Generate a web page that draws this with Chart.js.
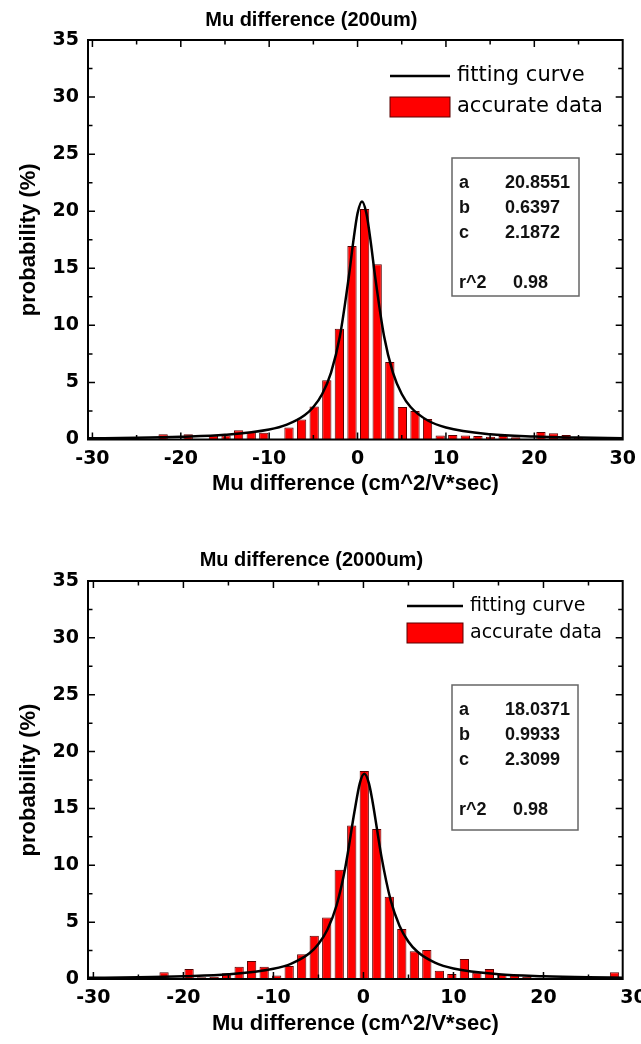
<!DOCTYPE html>
<html>
<head>
<meta charset="utf-8">
<script src="https://cdn.jsdelivr.net/npm/chart.js@4/dist/chart.umd.min.js"></script>
<style>
  body { margin: 0; background: #fff; width: 641px; height: 1044px; overflow: hidden; position: relative; }
  .grafica { position: absolute; left: 0; }
</style>
</head>
<body>
<canvas id="grafica200" class="grafica" width="641" height="540" style="top:0"></canvas>
<canvas id="grafica2000" class="grafica" width="641" height="504" style="top:540px"></canvas>
<script>
// ---- 200um: centros de las barras y probabilidad (%) ----
const bins200 = [-22.0, -20.58, -19.16, -17.73, -16.31, -14.88, -13.46, -12.03, -10.61, -9.18,
  -7.76, -6.33, -4.91, -3.48, -2.06, -0.63, 0.80, 2.22, 3.65, 5.07, 6.50, 7.92, 9.35, 10.77,
  12.20, 13.62, 15.05, 16.47, 17.90, 19.32, 20.75, 22.17, 23.60, 25.02];
const prob200 = [0.45, 0, 0.45, 0, 0.35, 0.35, 0.8, 0.65, 0.6, 0,
  1.05, 1.75, 2.9, 5.2, 9.7, 16.95, 20.2, 15.35, 6.8, 2.85, 2.5, 1.8, 0.35, 0.4,
  0.35, 0.3, 0.25, 0.3, 0.2, 0, 0.65, 0.55, 0.4, 0.2];
// curva de ajuste
const ajusteX200 = [-30.5, -25, -20, -15, -10, -8, -6, -5, -4, -3, -2, -1, -0.5, 0, 0.5,
  1, 1.5, 2, 3, 4, 5, 6, 8, 10, 15, 20, 25, 30];
const ajusteY200 = [0.10, 0.15, 0.24, 0.41, 0.87, 1.30, 2.12, 2.85, 3.99, 5.86, 9.04, 14.19, 17.25, 19.82, 20.86,
  19.82, 17.25, 14.19, 9.04, 5.86, 3.99, 2.85, 1.64, 1.05, 0.46, 0.26, 0.17, 0.11];
const params200 = ['20.8551', '0.6397', '2.1872'];
const r2_200 = '0.98';

// ---- 2000um ----
const bins2000 = [-24.93, -23.54, -22.15, -20.76, -19.37, -17.98, -16.59, -15.20, -13.81, -12.42,
  -11.03, -9.64, -8.25, -6.86, -5.47, -4.08, -2.69, -1.30, 0.09, 1.48, 2.87, 4.26, 5.65,
  7.04, 8.43, 9.82, 11.21, 12.60, 13.99, 15.38, 16.77, 18.16, 19.55, 20.94, 22.33, 23.72,
  25.11, 26.50, 27.89];
const prob2000 = [0.15, 0, 0.59, 0, 0.88, 0.15, 0.2, 0.5, 1.08, 1.58,
  1.08, 0.3, 1.14, 2.17, 3.81, 5.4, 9.6, 13.5, 18.3, 13.2, 7.24, 4.4, 2.43,
  2.55, 0.73, 0.44, 1.76, 0.56, 0.88, 0.44, 0.35, 0.2, 0.1, 0.1, 0.1, 0.1,
  0.1, 0, 0.59];
const ajusteX2000 = [-30.6, -25, -20, -15, -10, -8, -6, -5, -4, -3, -2, -1, -0.4, 0.1, 0.6,
  1, 2, 3, 4, 5, 6, 8, 10, 15, 20, 25, 28.8];
const ajusteY2000 = [0.10, 0.15, 0.24, 0.41, 0.90, 1.36, 2.26, 3.07, 4.35, 6.44, 9.88, 14.7, 17.23, 18.04, 17.23,
  15.66, 10.76, 7.0, 4.69, 3.28, 2.40, 1.42, 0.93, 0.42, 0.24, 0.15, 0.12];
const params2000 = ['18.0371', '0.9933', '2.3099'];
const r2_2000 = '0.98';

const etiquetasParam = ['a', 'b', 'c'];
const ticksX = [-30, -20, -10, 0, 10, 20, 30];
const ticksY = [0, 5, 10, 15, 20, 25, 30, 35];

const FUENTE = '"Liberation Sans", Arial, sans-serif';
const FUENTE_TICKS = '"DejaVu Sans", sans-serif';

function marcoPlugin(cfg) {
  return {
    id: 'marco',
    afterDraw(chart) {
      const ctx = chart.ctx;
      const a = chart.chartArea;
      const x = chart.scales.x, y = chart.scales.y;
      ctx.save();
      // marco y marcas hacia adentro
      ctx.strokeStyle = '#000';
      ctx.lineWidth = 2;
      ctx.strokeRect(a.left, a.top, a.right - a.left, a.bottom - a.top);
      ctx.lineWidth = 1.5;
      ctx.beginPath();
      for (let v = -30; v <= 30; v += 5) {
        const px = x.getPixelForValue(v);
        if (px <= a.left + 1 || px >= a.right - 1) continue;
        const len = v % 10 === 0 ? 7 : 4.5;
        ctx.moveTo(px, a.bottom); ctx.lineTo(px, a.bottom - len);
        ctx.moveTo(px, a.top); ctx.lineTo(px, a.top + len);
      }
      for (let v = 2.5; v < 35; v += 2.5) {
        const py = y.getPixelForValue(v);
        const len = v % 5 === 0 ? 7 : 4.5;
        ctx.moveTo(a.left, py); ctx.lineTo(a.left + len, py);
        ctx.moveTo(a.right, py); ctx.lineTo(a.right - len, py);
      }
      ctx.stroke();

      // leyenda
      const linea = chart.data.datasets[0], barras = chart.data.datasets[1];
      const ley = cfg.leyenda;
      ctx.strokeStyle = linea.borderColor;
      ctx.lineWidth = 2.5;
      ctx.beginPath();
      ctx.moveTo(ley.x, ley.y1); ctx.lineTo(ley.x + ley.ancho, ley.y1);
      ctx.stroke();
      ctx.fillStyle = barras.backgroundColor;
      ctx.fillRect(ley.x, ley.y2 - 10, ley.ancho, 20);
      ctx.strokeStyle = barras.borderColor;
      ctx.lineWidth = 1;
      ctx.strokeRect(ley.x, ley.y2 - 10, ley.ancho, 20);
      ctx.fillStyle = '#000';
      ctx.font = ley.fuente + 'px "DejaVu Sans", sans-serif';
      ctx.textBaseline = 'middle';
      ctx.fillText(linea.label, ley.x + ley.ancho + 7, ley.y1);
      ctx.fillText(barras.label, ley.x + ley.ancho + 7, ley.y2);

      // caja de parametros
      const c = cfg.caja;
      ctx.strokeStyle = '#666';
      ctx.lineWidth = 1.5;
      ctx.strokeRect(c.x, c.y, c.w, c.h);
      ctx.fillStyle = '#111';
      ctx.font = 'bold 18px ' + FUENTE;
      etiquetasParam.forEach((e, i) => {
        ctx.fillText(e, c.x + 7, c.y + 25 + i * 25);
        ctx.fillText(cfg.params[i], c.x + 53, c.y + 25 + i * 25);
      });
      ctx.fillText('r^2', c.x + 7, c.y + 125);
      ctx.fillText(cfg.r2, c.x + 61, c.y + 125);
      ctx.restore();
    }
  };
}

function CrearGrafica(id, cfg) {
  const H = document.getElementById(id).height;
  new Chart(document.getElementById(id), {
    type: 'bar',
    data: {
      datasets: [
        {
          type: 'line',
          label: 'fitting curve',
          data: cfg.ajusteX.map((v, i) => ({ x: v, y: cfg.ajusteY[i] })),
          borderColor: '#000',
          borderWidth: 2.5,
          pointRadius: 0,
          cubicInterpolationMode: 'monotone',
          order: 0
        },
        {
          type: 'bar',
          label: 'accurate data',
          data: cfg.bins.map((v, i) => ({ x: v, y: cfg.prob[i] })),
          backgroundColor: '#ff0000',
          borderColor: '#5a0000',
          borderWidth: 1,
          barPercentage: 0.74,
          categoryPercentage: 1,
          order: 1
        }
      ]
    },
    options: {
      responsive: false,
      animation: false,
      layout: { padding: { left: 0, right: 18.3, top: 0, bottom: H - 497.6 } },
      plugins: {
        legend: { display: false },
        tooltip: { enabled: false },
        title: {
          display: true,
          text: cfg.titulo,
          color: '#000',
          font: { family: FUENTE, size: 20, weight: 'bold' },
          padding: { top: 8, bottom: cfg.plotTop - 32 }
        }
      },
      scales: {
        x: {
          type: 'linear',
          offset: false,
          min: cfg.xMin,
          max: cfg.xMax,
          grid: { display: false, drawTicks: false, offset: false },
          border: { display: false },
          afterBuildTicks: s => { s.ticks = ticksX.map(v => ({ value: v })); },
          afterFit: s => { s.height = 497.6 - cfg.plotBottom; s.paddingLeft = 0; s.paddingRight = 0; },
          ticks: { autoSkip: false, maxRotation: 0, padding: 8, color: '#000',
            font: { family: FUENTE_TICKS, size: 19, weight: 'bold' } },
          title: { display: true, text: 'Mu difference (cm^2/V*sec)', color: '#000', padding: 0,
            font: { family: FUENTE, size: 22, weight: 'bold' } }
        },
        y: {
          min: 0,
          max: 35,
          grid: { display: false, drawTicks: false },
          border: { display: false },
          afterBuildTicks: s => { s.ticks = ticksY.map(v => ({ value: v })); },
          afterFit: s => { s.width = 88; s.paddingTop = 0; s.paddingBottom = 0; },
          ticks: { padding: 9, color: '#000', font: { family: FUENTE_TICKS, size: 19, weight: 'bold' } },
          title: { display: true, text: 'probability (%)', color: '#000', padding: { top: 16, bottom: 0 },
            font: { family: FUENTE, size: 22, weight: 'bold' } }
        }
      }
    },
    plugins: [marcoPlugin(cfg)]
  });
}

CrearGrafica('grafica200', {
  titulo: 'Mu difference (200um)',
  bins: bins200, prob: prob200, ajusteX: ajusteX200, ajusteY: ajusteY200,
  params: params200, r2: r2_200,
  xMin: -30.5, xMax: 30, plotTop: 40, plotBottom: 439.5,
  leyenda: { x: 390, ancho: 60, y1: 76, y2: 107, fuente: 21 },
  caja: { x: 452, y: 158, w: 127, h: 138 }
});

CrearGrafica('grafica2000', {
  titulo: 'Mu difference (2000um)',
  bins: bins2000, prob: prob2000, ajusteX: ajusteX2000, ajusteY: ajusteY2000,
  params: params2000, r2: r2_2000,
  xMin: -30.6, xMax: 28.8, plotTop: 41, plotBottom: 439,
  leyenda: { x: 407, ancho: 56, y1: 66, y2: 93, fuente: 19 },
  caja: { x: 452, y: 145, w: 126, h: 145 }
});
</script>
</body>
</html>
